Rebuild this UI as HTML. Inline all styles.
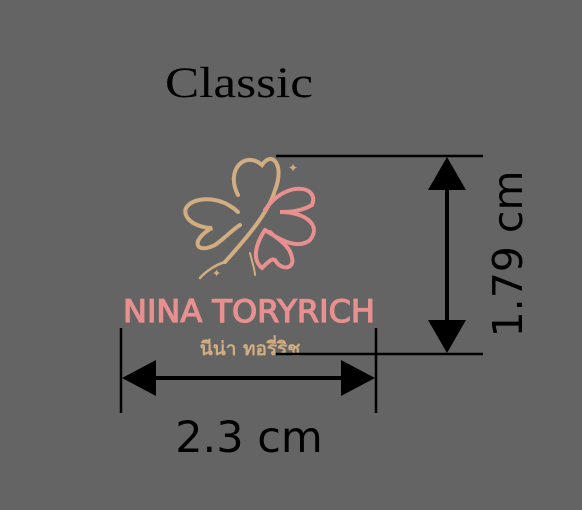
<!DOCTYPE html>
<html><head><meta charset="utf-8"><style>
html,body{margin:0;padding:0;background:#646464;}
svg{display:block}
</style></head><body>
<svg width="582" height="510" viewBox="0 0 582 510">
<rect width="582" height="510" fill="#646464"/>
<text x="239" y="97" font-family="Liberation Serif, serif" font-size="43" fill="#000" text-anchor="middle" textLength="148" lengthAdjust="spacingAndGlyphs">Classic</text>

<g fill="none" stroke-linecap="round" stroke-width="4">
  <path d="M238 195 C225 170 245 150 262 165 C272 150 285 165 275 190 C268 215 240 245 225 262" stroke="#d2ad82"/>
  <path d="M238 212 C215 190 180 200 186 215 C190 225 205 228 212 228 C190 240 195 255 215 245 C225 238 232 230 240 225" stroke="#d2ad82"/>
  <path d="M225 262 C215 265 205 272 200 278" stroke="#d2ad82" stroke-width="2.5"/>
  <path d="M265 210 C285 180 320 185 312 205 C300 212 288 212 280 212 C305 212 322 225 310 240 C298 250 280 240 265 230" stroke="#e8908f"/>
  <path d="M265 230 C255 245 252 260 262 268 C268 262 272 258 275 260 C282 272 295 268 292 258 C290 245 278 240 270 232" stroke="#e8908f"/>
  <path d="M250 253 C252 262 255 270 255 275" stroke="#d2ad82" stroke-width="2"/>
  <text x="288" y="172" font-size="12" fill="#d2ad82" stroke="none" font-family="DejaVu Sans, sans-serif">✦</text>
  <text x="212" y="277" font-size="11" fill="#d2ad82" stroke="none" font-family="DejaVu Sans, sans-serif">✦</text>
</g>

<text x="249" y="322" font-family="DejaVu Sans, sans-serif" font-size="31" fill="#e8908f" stroke="#e8908f" stroke-width="1.2" text-anchor="middle" textLength="252" lengthAdjust="spacingAndGlyphs">NINA TORYRICH</text>
<text x="250" y="355" font-family="DejaVu Sans, sans-serif" font-size="19" font-weight="bold" fill="#d2ad82" text-anchor="middle">นีน่า ทอรี่ริช</text>

<g stroke="#000" stroke-width="2.5">
  <line x1="276" y1="156" x2="483" y2="156"/>
  <line x1="276" y1="354" x2="483" y2="354"/>
  <line x1="447" y1="185" x2="447" y2="325" stroke-width="4"/>
  <polygon points="447,157 428,190 466,190" fill="#000" stroke="none"/>
  <polygon points="447,353 428,320 466,320" fill="#000" stroke="none"/>
</g>
<text x="0" y="0" transform="translate(522,254) rotate(-90)" font-family="DejaVu Sans, sans-serif" font-size="41" fill="#000" text-anchor="middle">1.79 cm</text>

<g stroke="#000" stroke-width="2.5">
  <line x1="121" y1="328" x2="121" y2="413"/>
  <line x1="376" y1="328" x2="376" y2="413"/>
  <line x1="150" y1="378" x2="345" y2="378" stroke-width="4"/>
  <polygon points="122,378 156,360 156,396" fill="#000" stroke="none"/>
  <polygon points="375,378 341,360 341,396" fill="#000" stroke="none"/>
</g>
<text x="249" y="452" font-family="DejaVu Sans, sans-serif" font-size="43" fill="#000" text-anchor="middle">2.3 cm</text>
</svg>
</body></html>
